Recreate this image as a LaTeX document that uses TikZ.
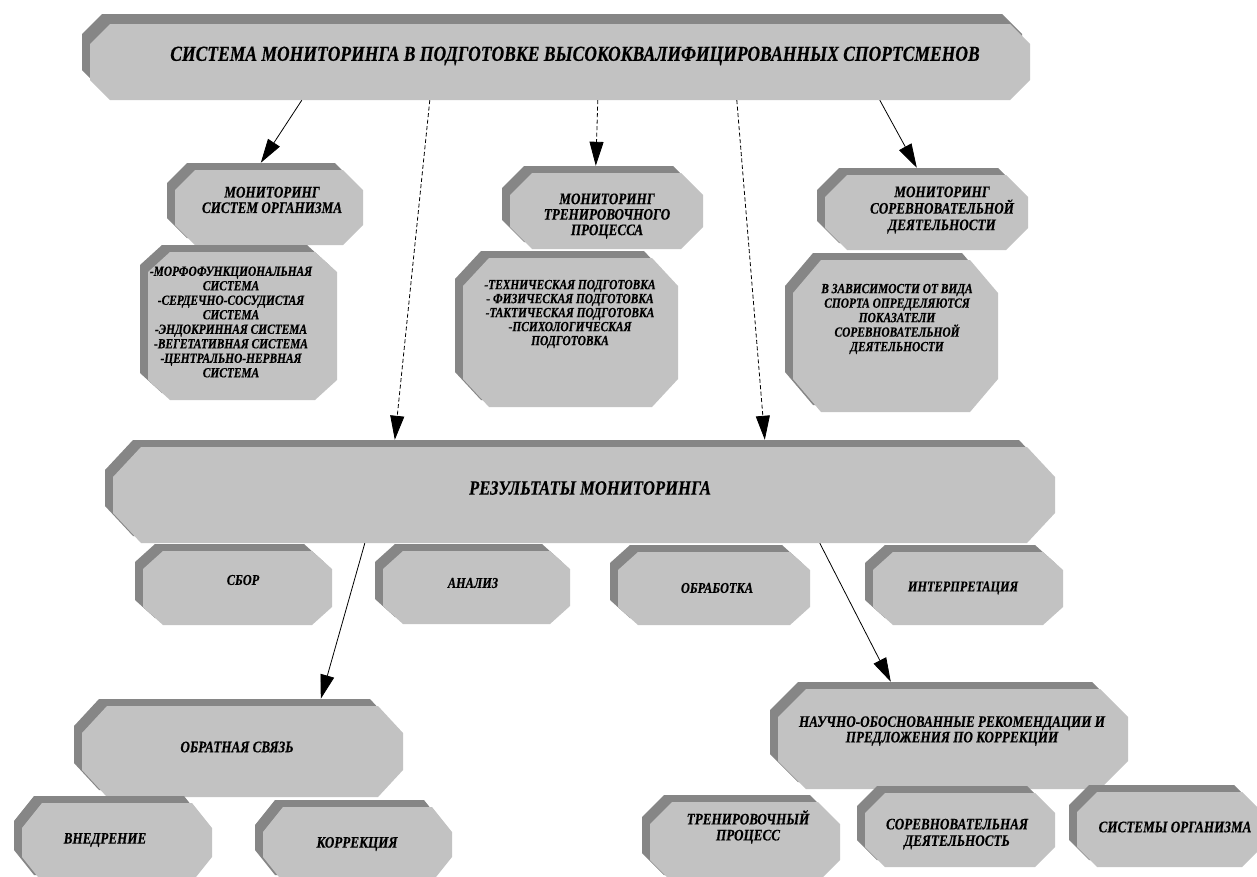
\documentclass[tikz,border=0pt]{standalone}
\usepackage{fontspec}
\setmainfont{Liberation Serif}[FakeStretch=0.82,FakeBold=0.4]
\usetikzlibrary{calc,arrows.meta}
\definecolor{boxface}{RGB}{194,194,194}
\definecolor{boxshade}{RGB}{134,134,134}
\tikzset{
  conn/.style={line width=0.8pt, -{Triangle[length=24pt,width=14pt]}},
  dconn/.style={conn, dash pattern=on 4pt off 2.5pt},
  lbl/.style={align=center, inner sep=0pt, text=black},
}
\newcommand\fs[2]{\fontsize{#1}{#2}\selectfont\bfseries\itshape}
% #1 shadow dy, #2 name, #3 x1, #4 y1, #5 x2, #6 y2, #7 chamfer x, #8 chamfer y
\newcommand\obox[8][7]{%
  \begin{scope}[shift={(-8,-#1)}]
    \fill[boxshade] ({#3+#7},#4) -- ({#5-#7},#4) -- (#5,{#4+#8}) -- (#5,{#6-#8}) -- ({#5-#7},#6) -- ({#3+#7},#6) -- (#3,{#6-#8}) -- (#3,{#4+#8}) -- cycle;
  \end{scope}
  \fill[boxface] ({#3+#7},#4) -- ({#5-#7},#4) -- (#5,{#4+#8}) -- (#5,{#6-#8}) -- ({#5-#7},#6) -- ({#3+#7},#6) -- (#3,{#6-#8}) -- (#3,{#4+#8}) -- cycle;
  \node[inner sep=0pt, minimum width={(#5-#3+8)*1pt}, minimum height={(#6-#4+#1)*1pt}] (#2) at ({(#3-8+#5)/2},{(#4-#1+#6)/2}) {};
}
\begin{document}
\begin{tikzpicture}[x=1pt,y=-1pt]
\useasboundingbox (0,0) rectangle (1257,876);
\fill[white] (0,0) rectangle (1257,876);
\clip (0,0) rectangle (1257,876);

% boxes
\obox[10]{top}{90}{24}{1030}{100}{20}{20}
\obox{org}{175}{170}{363}{245}{20}{20}
\obox{orgl}{148}{252}{337}{400}{22}{20}
\obox{trn}{510}{173}{703}{249}{22}{22}
\obox{trnl}{463}{258}{678}{407}{26}{28}
\obox{cmp}{825}{175}{1028}{250}{22}{22}
\obox{cmpl}{793}{260}{998}{412}{28}{33}
\obox{res}{113}{447}{1055}{543}{28}{30}
\obox{col}{143}{551}{332}{625}{20}{18}
\obox{ana}{383}{551}{570}{624}{20}{18}
\obox{proc}{618}{552}{810}{625}{20}{18}
\obox{intp}{873}{552}{1063}{625}{20}{18}
\obox{fb}{82}{706}{403}{797}{25}{27}
\obox{impl}{22}{803}{212}{882}{20}{25}
\obox{corr}{263}{807}{452}{882}{20}{25}
\obox{rec}{778}{689}{1128}{789}{28}{28}
\obox{ttp}{650}{802}{840}{882}{22}{22}
\obox{cact}{865}{793}{1055}{867}{20}{20}
\obox{sorg}{1077}{792}{1262}{867}{20}{20}

% labels
\node[lbl, font=\fs{21.4}{24}] (top-t) at (575,56) {СИСТЕМА МОНИТОРИНГА В ПОДГОТОВКЕ ВЫСОКОКВАЛИФИЦИРОВАННЫХ СПОРТСМЕНОВ};
\node[lbl, font=\fs{16}{15.5}] (org-t) at (272,200) {МОНИТОРИНГ\\СИСТЕМ ОРГАНИЗМА};
\node[lbl, font=\fs{13.9}{14.5}] (orgl-t) at (231,322) {-МОРФОФУНКЦИОНАЛЬНАЯ\\СИСТЕМА\\-СЕРДЕЧНО-СОСУДИСТАЯ\\СИСТЕМА\\-ЭНДОКРИННАЯ СИСТЕМА\\-ВЕГЕТАТИВНАЯ СИСТЕМА\\-ЦЕНТРАЛЬНО-НЕРВНАЯ\\СИСТЕМА};
\node[lbl, font=\fs{16}{15.5}] (trn-t) at (607,216) {МОНИТОРИНГ\\ТРЕНИРОВОЧНОГО\\ПРОЦЕССА};
\node[lbl, font=\fs{13.9}{14}] (trnl-t) at (570,314) {-ТЕХНИЧЕСКАЯ ПОДГОТОВКА\\- ФИЗИЧЕСКАЯ ПОДГОТОВКА\\-ТАКТИЧЕСКАЯ ПОДГОТОВКА\\-ПСИХОЛОГИЧЕСКАЯ\\ПОДГОТОВКА};
\node[lbl, font=\fs{16}{16.5}] (cmp-t) at (942,210) {МОНИТОРИНГ\\СОРЕВНОВАТЕЛЬНОЙ\\ДЕЯТЕЛЬНОСТИ};
\node[lbl, font=\fs{13.9}{14.5}] (cmpl-t) at (897,319) {В ЗАВИСИМОСТИ ОТ ВИДА\\СПОРТА ОПРЕДЕЛЯЮТСЯ\\ПОКАЗАТЕЛИ\\СОРЕВНОВАТЕЛЬНОЙ\\ДЕЯТЕЛЬНОСТИ};
\node[lbl, font=\fs{20.3}{22}] (res-t) at (590,488) {РЕЗУЛЬТАТЫ МОНИТОРИНГА};
\node[lbl, font=\fs{15}{15}] (col-t) at (243,580) {СБОР};
\node[lbl, font=\fs{15}{15}] (ana-t) at (473,583) {АНАЛИЗ};
\node[lbl, font=\fs{15}{15}] (proc-t) at (717,588) {ОБРАБОТКА};
\node[lbl, font=\fs{15}{15}] (intp-t) at (963,588) {ИНТЕРПРЕТАЦИЯ};
\node[lbl, font=\fs{16}{16}] (fb-t) at (237,747) {ОБРАТНАЯ СВЯЗЬ};
\node[lbl, font=\fs{16}{16}] (impl-t) at (105,840) {ВНЕДРЕНИЕ};
\node[lbl, font=\fs{16}{16}] (corr-t) at (357,844) {КОРРЕКЦИЯ};
\node[lbl, font=\fs{16}{15.5}] (rec-t) at (952,731) {НАУЧНО-ОБОСНОВАННЫЕ РЕКОМЕНДАЦИИ И\\ПРЕДЛОЖЕНИЯ ПО КОРРЕКЦИИ};
\node[lbl, font=\fs{16}{16}] (ttp-t) at (748,827) {ТРЕНИРОВОЧНЫЙ\\ПРОЦЕСС};
\node[lbl, font=\fs{16}{16.5}] (cact-t) at (957,834) {СОРЕВНОВАТЕЛЬНАЯ\\ДЕЯТЕЛЬНОСТЬ};
\node[lbl, font=\fs{16}{16}] (sorg-t) at (1175,827) {СИСТЕМЫ ОРГАНИЗМА};

% connectors
\draw[conn]  ($(top.south west)+(220,0)$) -- ($(org.north west)+(94,0)$);
\draw[dconn] ($(top.south west)+(348,0)$) -- ($(res.north west)+(290,0)$);
\draw[dconn] ($(top.south west)+(516,0)$) -- ($(trn.north west)+(94,0)$);
\draw[dconn] ($(top.south west)+(655,0)$) -- ($(res.north west)+(660,0)$);
\draw[conn]  ($(top.south west)+(798,0)$) -- ($(cmp.north west)+(100,0)$);
\draw[conn]  ($(res.south west)+(260,0)$) -- ($(fb.north west)+(247,0)$);
\draw[conn]  ($(res.south west)+(715,0)$) -- ($(rec.north west)+(121,0)$);
\end{tikzpicture}
\end{document}
